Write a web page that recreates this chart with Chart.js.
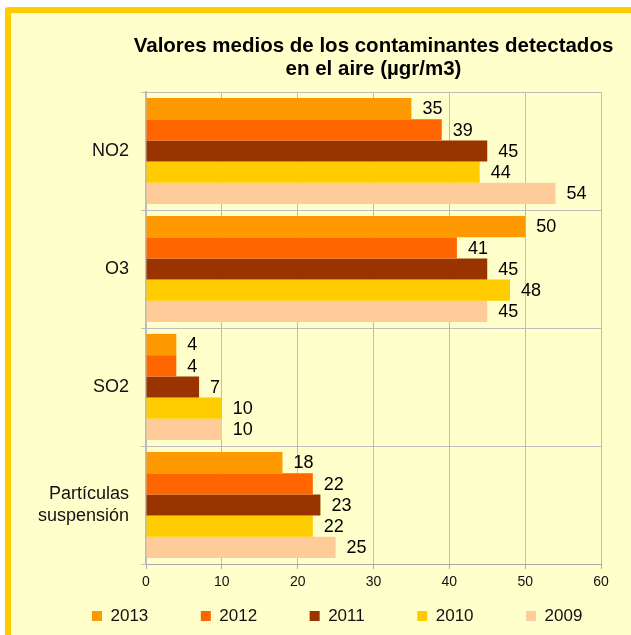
<!DOCTYPE html>
<html>
<head>
<meta charset="utf-8">
<script src="https://cdn.jsdelivr.net/npm/chart.js@4/dist/chart.umd.min.js"></script>
<style>
  body { margin: 0; background: #ffffff; overflow: hidden; }
  #frame {
    position: absolute; left: 5px; top: 7px; width: 700px; height: 700px;
    box-sizing: border-box; border: 6px solid #FFCC00; border-radius: 3px;
    background: #FFFFCC;
  }
  #chart { position: absolute; left: 0; top: 0; }
</style>
</head>
<body>
<div id="frame"></div>
<canvas id="chart" width="631" height="635"></canvas>
<script>
// Valores medios de contaminantes (µgr/m3)
const categories = ['NO2', 'O3', 'SO2', ['Partículas', 'suspensión']];
const years = ['2013', '2012', '2011', '2010', '2009'];
const colors = ['#FF9900', '#FF6600', '#993300', '#FFCC00', '#FFCC99'];
const values2013 = [35, 50, 4, 18];
const values2012 = [39, 41, 4, 22];
const values2011 = [45, 45, 7, 23];
const values2010 = [44, 48, 10, 22];
const values2009 = [54, 45, 10, 25];
const xTicks = [0, 10, 20, 30, 40, 50, 60];
const titleLines = ['Valores medios de los contaminantes detectados', 'en el aire (µgr/m3)'];

const FONT = '"Liberation Sans", Arial, sans-serif';
const allValues = [values2013, values2012, values2011, values2010, values2009];

const datasets = years.map((y, i) => ({
    label: y,
    data: allValues[i],
    backgroundColor: colors[i],
    borderWidth: 0,
    categoryPercentage: 0.9,
    barPercentage: 1.0
}));

// title centred over the plot area
const titlePlugin = {
    id: 'plotTitle',
    afterDraw(chart) {
        const ctx = chart.ctx;
        const cx = (chart.chartArea.left + chart.chartArea.right) / 2;
        ctx.save();
        ctx.font = 'bold 20.5px ' + FONT;
        ctx.fillStyle = '#000';
        ctx.textAlign = 'center';
        ctx.textBaseline = 'middle';
        ctx.fillText(titleLines[0], cx, 46);
        ctx.fillText(titleLines[1], cx, 69);
        ctx.restore();
    }
};

// value labels at bar ends
const valueLabels = {
    id: 'valueLabels',
    afterDatasetsDraw(chart) {
        const ctx = chart.ctx;
        ctx.save();
        ctx.font = '18px ' + FONT;
        ctx.fillStyle = '#000';
        ctx.textAlign = 'left';
        ctx.textBaseline = 'middle';
        chart.data.datasets.forEach((ds, i) => {
            chart.getDatasetMeta(i).data.forEach((bar, j) => {
                ctx.fillText(ds.data[j], bar.x + 11, bar.y + 1);
            });
        });
        ctx.restore();
    }
};

// legend row starts further right, like the original
const legendShift = {
    id: 'legendShift',
    afterLayout(chart) {
        chart.legend.left += 82;
    }
};

new Chart(document.getElementById('chart'), {
    type: 'bar',
    data: { labels: categories, datasets: datasets },
    options: {
        indexAxis: 'y',
        responsive: false,
        animation: false,
        layout: { padding: { top: 92, left: 0, right: 30, bottom: 0.5 } },
        scales: {
            x: {
                min: 0,
                max: 60,
                afterBuildTicks(scale) { scale.ticks = xTicks.map(v => ({ value: v })); },
                afterFit(scale) { scale.height = 33.5; },
                grid: {
                    color: '#BDBDBD',
                    borderDash: [2, 1],
                    tickLength: 5,
                    tickColor: '#AAAAAA',
                    tickBorderDash: []
                },
                border: { display: true, color: '#AAAAAA', width: 1 },
                ticks: { font: { family: FONT, size: 14 }, color: '#111', padding: 5 }
            },
            y: {
                afterFit(scale) { scale.width = 146; },
                grid: {
                    color: '#BDBDBD',
                    borderDash: [2, 1],
                    tickLength: 5,
                    tickColor: '#BDBDBD'
                },
                border: { display: true, color: '#BBBBBB', width: 2 },
                ticks: { font: { family: FONT, size: 18 }, color: '#111', padding: 12 }
            }
        },
        plugins: {
            title: { display: false },
            tooltip: { enabled: false },
            legend: {
                position: 'bottom',
                align: 'start',
                labels: {
                    font: { family: FONT, size: 17 },
                    color: '#111',
                    boxWidth: 10,
                    boxHeight: 10,
                    padding: 10,
                    generateLabels(chart) {
                        const items = Chart.defaults.plugins.legend.labels.generateLabels(chart);
                        items.forEach((it, i) => {
                            if (i < items.length - 1) it.text = it.text + '         ';
                        });
                        return items;
                    }
                }
            }
        }
    },
    plugins: [titlePlugin, valueLabels, legendShift]
});
</script>
</body>
</html>
